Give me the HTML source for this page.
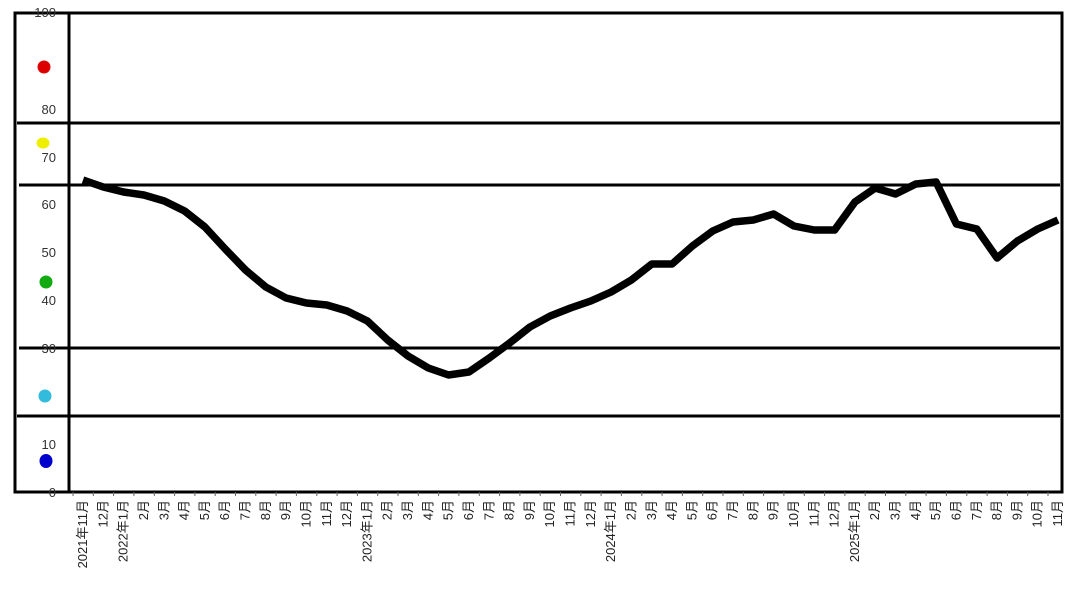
<!DOCTYPE html>
<html><head><meta charset="utf-8"><style>
body{margin:0;background:#fff;width:1080px;height:597px;overflow:hidden}
</style></head><body>
<svg id="s" width="1080" height="597" xmlns="http://www.w3.org/2000/svg" font-family="Liberation Sans, Noto Sans CJK SC, sans-serif">
<rect x="15" y="13" width="1047" height="479" fill="none" stroke="#000" stroke-width="3"/>
<line x1="69" y1="13" x2="69" y2="492" stroke="#000" stroke-width="3"/>
<line x1="17" y1="123" x2="1060" y2="123" stroke="#000" stroke-width="3"/>
<line x1="19" y1="185" x2="1060" y2="185" stroke="#000" stroke-width="3"/>
<line x1="19" y1="348" x2="1060" y2="348" stroke="#000" stroke-width="3"/>
<line x1="17" y1="416" x2="1060" y2="416" stroke="#000" stroke-width="3"/>
<g font-size="13" fill="#333" text-anchor="end">
<text x="56" y="17">100</text><text x="56" y="114">80</text><text x="56" y="162">70</text>
<text x="56" y="209">60</text><text x="56" y="257">50</text><text x="56" y="305">40</text>
<text x="56" y="353">30</text><text x="56" y="449">10</text><text x="56" y="497">0</text>
</g>
<circle cx="44" cy="67" r="6.5" fill="#d00"/>
<ellipse cx="43" cy="143" rx="6.5" ry="5.5" fill="#ee0"/>
<circle cx="46" cy="282" r="6.5" fill="#1a1"/>
<circle cx="45" cy="396" r="6.5" fill="#3bd"/>
<ellipse cx="46" cy="461" rx="6.5" ry="7" fill="#00c"/>
<polyline id="p" fill="none" stroke="#000" stroke-width="7.5" stroke-linejoin="round"/>
<g id="lab" font-size="13" fill="#222"></g>
</svg>
<script>
var ys=[180,187,192,195,201,211,227,249,270,287,298,303,305,311,321,340,356,368,375,372,358,343,327,316,308,301,292,280,264,264,246,231,222,220,214,226,230,230,202,188,194,184,182,224,229,258,241,229,220];
var pts=[];var x0=83,dx=(1058-83)/48;
for(var i=0;i<ys.length;i++)pts.push((x0+i*dx).toFixed(1)+","+ys[i]);
document.getElementById('p').setAttribute('points',pts.join(' '));
var g=document.getElementById('lab'),h='';
for(var i=0;i<49;i++){var m=(10+i)%12+1;var y=2021+Math.floor((10+i)/12);
var t=(m==1||i==0)?y+"年"+m+"月":m+"月";var x=x0+i*dx+4;
h+='<text transform="translate('+x.toFixed(1)+',500) rotate(-90)" text-anchor="end">'+t+'</text>';
h+='<line x1="'+(x0+i*dx-10).toFixed(1)+'" y1="492" x2="'+(x0+i*dx-10).toFixed(1)+'" y2="496" stroke="#666"/>';}
g.innerHTML=h;
</script>
</body></html>
